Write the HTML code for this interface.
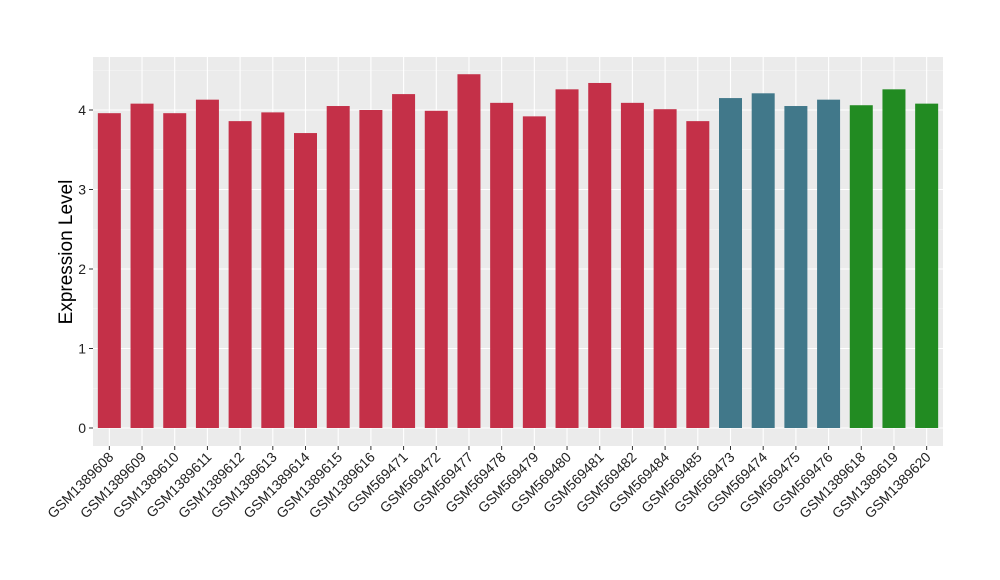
<!DOCTYPE html>
<html><head><meta charset="utf-8"><style>body{margin:0;background:#fff}svg{display:block;font-family:"Liberation Sans",sans-serif}</style></head>
<body>
<svg id="chart" width="1000" height="580">
<rect x="93" y="57" width="850" height="389" fill="#ebebeb"/>
<g id="grid"></g><g id="bars"></g><g id="yaxis"></g><g id="xaxis"></g>
<text transform="translate(72,252) rotate(-90)" text-anchor="middle" font-size="19">Expression Level</text>
</svg>
<script>
const categories=["GSM1389608","GSM1389609","GSM1389610","GSM1389611","GSM1389612","GSM1389613","GSM1389614","GSM1389615","GSM1389616","GSM569471","GSM569472","GSM569477","GSM569478","GSM569479","GSM569480","GSM569481","GSM569482","GSM569484","GSM569485","GSM569473","GSM569474","GSM569475","GSM569476","GSM1389618","GSM1389619","GSM1389620"];
const values=[3.96,4.08,3.96,4.13,3.86,3.97,3.71,4.05,4.00,4.20,3.99,4.45,4.09,3.92,4.26,4.34,4.09,4.01,3.86,4.15,4.21,4.05,4.13,4.06,4.26,4.08];
const groups=[0,0,0,0,0,0,0,0,0,0,0,0,0,0,0,0,0,0,0,1,1,1,1,2,2,2];
const groupColors=["#c43048","#41788a","#228b22"];
const yTicks=[0,1,2,3,4];
const NS="http://www.w3.org/2000/svg";
const y=v=>428-v*79.5;
const step=850/categories.length;
const x=i=>93+step*(i+0.5);
function mk(tag,attrs,parent,text){const e=document.createElementNS(NS,tag);for(const k in attrs)e.setAttribute(k,attrs[k]);if(text!==undefined)e.textContent=text;parent.appendChild(e);return e;}
const grid=document.getElementById('grid'),bars=document.getElementById('bars'),ya=document.getElementById('yaxis'),xa=document.getElementById('xaxis');
for(let t=0;t<yTicks.length;t++){const v=yTicks[t];
 const g=mk('line',{x1:93,x2:943,y1:y(v),y2:y(v),stroke:'#fff','stroke-width':1.1},grid);
 
 
 if(t<yTicks.length-1){const m=mk('line',{x1:93,x2:943,y1:y(v+0.5),y2:y(v+0.5),stroke:'#f7f7f7','stroke-width':0.6},grid);
 
 }
 const tk=mk('line',{x1:89,x2:93,y1:y(v),y2:y(v),stroke:'#333'},ya);
 
 
 const lb=mk('text',{x:86,y:y(v)+5,'text-anchor':'end','font-size':14,fill:'#222'},ya,String(v));
 
 
}
const m45=mk('line',{x1:93,x2:943,y1:y(4.5),y2:y(4.5),stroke:'#f7f7f7','stroke-width':0.6},grid);


categories.forEach((c,i)=>{
 const vl=mk('line',{x1:x(i),x2:x(i),y1:57,y2:446,stroke:'#fff','stroke-width':1.1},grid);
 
 
 const b=mk('rect',{x:x(i)-11.5,y:y(values[i]),width:23,height:y(0)-y(values[i]),fill:groupColors[groups[i]]},bars);
 
 
 const tk=mk('line',{x1:x(i),x2:x(i),y1:446,y2:450,stroke:'#333'},xa);
 
 
 const lb=mk('text',{transform:`translate(${x(i)+5},${458}) rotate(-45)`,'text-anchor':'end','font-size':14,fill:'#222'},xa,c);
 
 
});
</script>
</body></html>
